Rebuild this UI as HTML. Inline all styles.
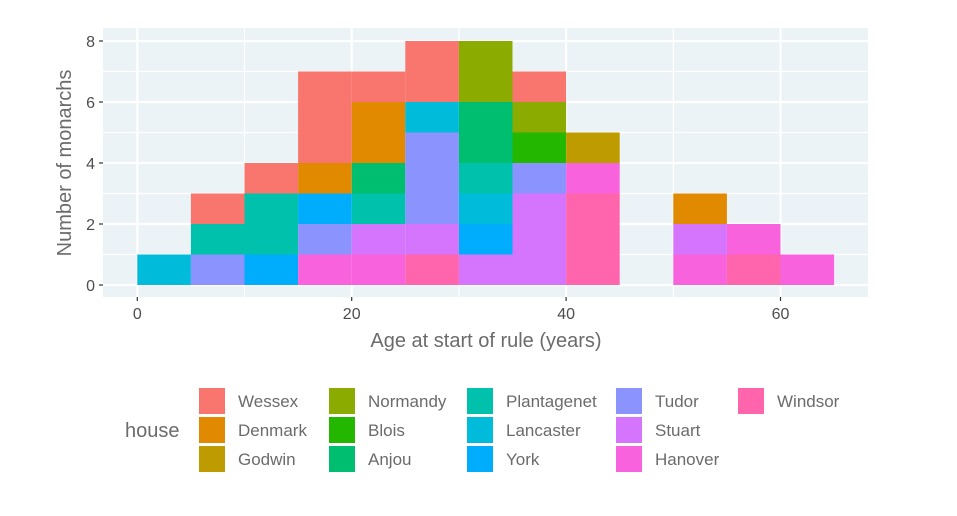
<!DOCTYPE html>
<html><head><meta charset="utf-8"><style>
body{margin:0;background:#fff;}
svg{display:block;font-family:"Liberation Sans",sans-serif;}
</style></head><body>
<svg id="c" width="957" height="516" viewBox="0 0 957 516">
<rect x="103" y="28" width="765" height="269" fill="#EBF3F7"/>
<g id="grid"></g><g id="bars"></g><g id="axes"></g><g id="legend"></g>
<text x="486" y="347" text-anchor="middle" font-size="20" fill="#6b6b6b">Age at start of rule (years)</text>
<text transform="translate(71,163) rotate(-90)" text-anchor="middle" font-size="20" fill="#6b6b6b">Number of monarchs</text>
<text x="125" y="437" font-size="20" fill="#6b6b6b">house</text>
</svg>
<script>
const houses=["Wessex","Denmark","Godwin","Normandy","Blois","Anjou","Plantagenet","Lancaster","York","Tudor","Stuart","Hanover","Windsor"];
const colors=["#F8766D","#E18A00","#BE9C00","#8CAB00","#24B700","#00BE70","#00C1AB","#00BBDA","#00ACFC","#8B93FF","#D575FE","#F962DD","#FF65AC"];
const binStarts=[0,5,10,15,20,25,30,35,40,45,50,55,60];
const binWidth=5;
// counts[house][bin]
const wessex=[0,1,1,3,1,2,0,1,0,0,0,0,0];
const denmark=[0,0,0,1,2,0,0,0,0,0,1,0,0];
const godwin=[0,0,0,0,0,0,0,0,1,0,0,0,0];
const normandy=[0,0,0,0,0,0,2,1,0,0,0,0,0];
const blois=[0,0,0,0,0,0,0,1,0,0,0,0,0];
const anjou=[0,0,0,0,1,0,2,0,0,0,0,0,0];
const plantagenet=[0,1,2,0,1,0,1,0,0,0,0,0,0];
const lancaster=[1,0,0,0,0,1,1,0,0,0,0,0,0];
const york=[0,0,1,1,0,0,1,0,0,0,0,0,0];
const tudor=[0,1,0,1,0,3,0,1,0,0,0,0,0];
const stuart=[0,0,0,0,1,1,1,3,0,0,1,0,0];
const hanover=[0,0,0,1,1,0,0,0,1,0,1,1,1];
const windsor=[0,0,0,0,0,1,0,0,3,0,0,1,0];
const counts=[wessex,denmark,godwin,normandy,blois,anjou,plantagenet,lancaster,york,tudor,stuart,hanover,windsor];
const xTicks=[0,20,40,60], xMinor=[10,30,50];
const yTicks=[0,2,4,6,8], yMinor=[1,3,5,7];
const NS="http://www.w3.org/2000/svg";
const X=v=>137.3+v*10.72, Y=v=>285-v*30.5;
function mk(tag,at,parent){const e=document.createElementNS(NS,tag);for(const k in at)e.setAttribute(k,at[k]);document.getElementById(parent).appendChild(e);return e;}
xMinor.forEach(v=>{const l=mk('line',{x1:X(v),x2:X(v),y1:28,y2:297,stroke:'#fff','stroke-width':1.2},'grid');

});
yMinor.forEach(v=>{const l=mk('line',{x1:103,x2:868,y1:Y(v),y2:Y(v),stroke:'#fff','stroke-width':1.2},'grid');

});
xTicks.forEach(v=>{const l=mk('line',{x1:X(v),x2:X(v),y1:28,y2:297,stroke:'#fff','stroke-width':2.2},'grid');


const t=mk('line',{x1:X(v),x2:X(v),y1:297,y2:301,stroke:'#333','stroke-width':1.2},'axes');


const tx=mk('text',{x:X(v),y:319,'text-anchor':'middle','font-size':16,fill:'#4d4d4d'},'axes');tx.textContent=v;

});
yTicks.forEach(v=>{const l=mk('line',{x1:103,x2:868,y1:Y(v),y2:Y(v),stroke:'#fff','stroke-width':2.2},'grid');


const t=mk('line',{x1:99,x2:103,y1:Y(v),y2:Y(v),stroke:'#333','stroke-width':1.2},'axes');


const tx=mk('text',{x:95,y:Y(v)+6,'text-anchor':'end','font-size':16,fill:'#4d4d4d'},'axes');tx.textContent=v;

});
binStarts.forEach((b,bi)=>{let base=0;
for(let h=houses.length-1;h>=0;h--){const c=counts[h][bi];if(!c)continue;
const r=mk('rect',{x:X(b),y:Y(base+c),width:X(b+binWidth)-X(b),height:Y(base)-Y(base+c),fill:colors[h]},'bars');


base+=c;}});
const colX=[199,329,467,616,738];
houses.forEach((h,i)=>{const col=Math.floor(i/3),row=i%3;
const kx=colX[col],ky=388+row*29;
const r=mk('rect',{x:kx,y:ky,width:26,height:26,fill:colors[i]},'legend');


const t=mk('text',{x:kx+39,y:ky+19,'font-size':17,fill:'#6b6b6b'},'legend');t.textContent=h;

});
</script>
</body></html>
